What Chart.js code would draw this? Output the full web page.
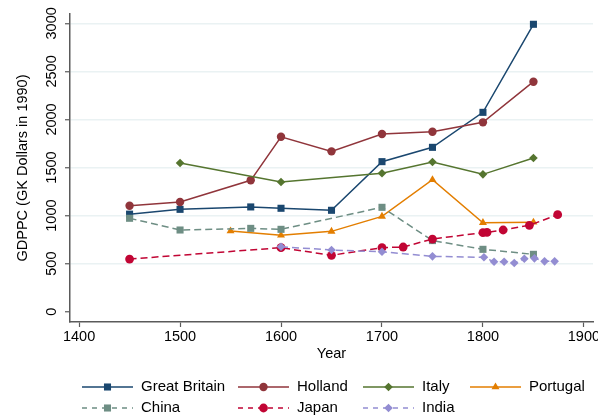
<!DOCTYPE html>
<html>
<head>
<meta charset="utf-8">
<script src="https://cdn.jsdelivr.net/npm/chart.js@4"></script>
<style>
  html, body { margin: 0; padding: 0; background: #ffffff; }
  #wrap { width: 598px; height: 419px; position: relative; }
</style>
</head>
<body>
<div id="wrap"><canvas id="c" width="598" height="419"></canvas></div>
<script>
// GDP per capita (1990 GK dollars) by country, 1450–1874
const seriesNames = ['Great Britain', 'Holland', 'Italy', 'Portugal', 'China', 'Japan', 'India'];

const gbYears = [1450, 1500, 1570, 1600, 1650, 1700, 1750, 1800, 1850];
const gbValues = [1015, 1065, 1090, 1076, 1055, 1561, 1710, 2074, 2990];

const hollandYears = [1450, 1500, 1570, 1600, 1650, 1700, 1750, 1800, 1850];
const hollandValues = [1102, 1141, 1367, 1820, 1668, 1848, 1872, 1970, 2393];

const italyYears = [1500, 1600, 1700, 1750, 1800, 1850];
const italyValues = [1547, 1349, 1440, 1557, 1429, 1599];

const portugalYears = [1550, 1600, 1650, 1700, 1750, 1800, 1850];
const portugalValues = [839, 795, 836, 992, 1373, 926, 930];

const chinaYears = [1450, 1500, 1570, 1600, 1700, 1750, 1800, 1850];
const chinaValues = [972, 850, 867, 857, 1086, 740, 649, 597];

const japanYears = [1450, 1600, 1650, 1700, 1721, 1750, 1800, 1804, 1820, 1846, 1874];
const japanValues = [548, 666, 587, 666, 673, 756, 822, 825, 850, 899, 1009];

const indiaYears = [1600, 1650, 1700, 1750, 1801, 1811, 1821, 1831, 1841, 1851, 1861, 1871];
const indiaValues = [676, 642, 624, 576, 566, 520, 520, 507, 551, 555, 524, 524];

const xTicks = [1400, 1500, 1600, 1700, 1800, 1900];
const yTicks = [0, 500, 1000, 1500, 2000, 2500, 3000];

// Appearance of each series
const seriesYears = [gbYears, hollandYears, italyYears, portugalYears, chinaYears, japanYears, indiaYears];
const seriesValues = [gbValues, hollandValues, italyValues, portugalValues, chinaValues, japanValues, indiaValues];
const seriesColors = ['#1a476f', '#90353b', '#55752f', '#e37e00', '#6e8e84', '#c10534', '#938dd2'];
const seriesDash = [[], [], [], [], [7, 4], [7, 4], [7, 4]];
const seriesPoint = ['rect', 'circle', 'rectRot', 'triangle', 'rect', 'circle', 'rectRot'];
const seriesRadius = [5, 4.2, 4.3, 4.6, 5, 4.4, 4.3];

const FONT = "'Liberation Sans', Arial, Helvetica, sans-serif";

const datasets = seriesNames.map((name, i) => ({
  label: name,
  data: seriesYears[i].map((yr, j) => ({ x: yr, y: seriesValues[i][j] })),
  borderColor: seriesColors[i],
  backgroundColor: seriesColors[i],
  pointBackgroundColor: seriesColors[i],
  pointBorderColor: seriesColors[i],
  pointBorderWidth: 0,
  borderWidth: 1.5,
  borderDash: seriesDash[i],
  pointStyle: seriesPoint[i],
  pointRadius: seriesRadius[i],
  tension: 0,
  fill: false,
  order: seriesNames.length - i
}));

// Two-row legend laid out on a fixed column grid below the plot
const gridLegend = {
  id: 'gridLegend',
  afterDraw(chart) {
    const ctx = chart.ctx;
    const colX = [82, 238, 363, 470];
    const rowY = [387, 408];
    const sampleLen = 51;
    ctx.save();
    chart.data.datasets.forEach((ds, i) => {
      const col = i < 4 ? i : i - 4;
      const row = i < 4 ? 0 : 1;
      const x0 = colX[col];
      const y = rowY[row];
      ctx.strokeStyle = ds.borderColor;
      ctx.lineWidth = ds.borderWidth;
      ctx.setLineDash(ds.borderDash && ds.borderDash.length ? [5, 5] : []);
      ctx.beginPath();
      ctx.moveTo(x0, y);
      ctx.lineTo(x0 + sampleLen, y);
      ctx.stroke();
      ctx.setLineDash([]);
      ctx.fillStyle = ds.pointBackgroundColor;
      ctx.strokeStyle = ds.pointBorderColor;
      Chart.helpers.drawPoint(ctx, {
        pointStyle: ds.pointStyle,
        radius: ds.pointRadius,
        rotation: 0,
        borderWidth: 0
      }, x0 + sampleLen / 2, y);
      ctx.fillStyle = '#000000';
      ctx.font = '15px ' + FONT;
      ctx.textAlign = 'left';
      ctx.textBaseline = 'middle';
      ctx.fillText(ds.label, x0 + sampleLen + 8, y);
    });
    ctx.restore();
  }
};

new Chart(document.getElementById('c'), {
  type: 'line',
  data: { datasets },
  plugins: [gridLegend],
  options: {
    responsive: false,
    animation: false,
    layout: { padding: { left: 0, right: 5, top: 14, bottom: 50 } },
    plugins: {
      legend: { display: false },
      tooltip: { enabled: false }
    },
    scales: {
      x: {
        type: 'linear',
        min: 1391,
        max: 1909,
        afterBuildTicks: s => { s.ticks = xTicks.map(v => ({ value: v })); },
        afterFit: s => { s.height = 47; s.paddingLeft = 0; s.paddingRight = 0; },
        grid: { drawOnChartArea: false, tickLength: 5, tickColor: '#5a5a5a', tickWidth: 1.2 },
        border: { color: '#5a5a5a', width: 1.5 },
        ticks: {
          color: '#000000',
          font: { family: FONT, size: 14.5 },
          padding: 1,
          maxRotation: 0,
          autoSkip: false,
          callback: v => String(v)
        },
        title: {
          display: true,
          text: 'Year',
          color: '#000000',
          font: { family: FONT, size: 14.5 },
          padding: { top: 0, bottom: 6 }
        }
      },
      y: {
        type: 'linear',
        min: -107,
        max: 3097,
        afterBuildTicks: s => { s.ticks = yTicks.map(v => ({ value: v })); },
        afterFit: s => { s.width = 70; s.paddingTop = 0; s.paddingBottom = 0; },
        grid: {
          color: c => (c.tick && c.tick.value === 0) ? 'rgba(0,0,0,0)' : '#eaf2f3',
          lineWidth: 1.5,
          tickLength: 5,
          tickColor: '#5a5a5a',
          tickWidth: 1.2
        },
        border: { color: '#5a5a5a', width: 1.5 },
        ticks: {
          color: '#000000',
          font: { family: FONT, size: 14.5 },
          minRotation: 90,
          maxRotation: 90,
          crossAlign: 'center',
          padding: -3,
          autoSkip: false,
          callback: v => String(v)
        },
        title: {
          display: true,
          text: 'GDPPC (GK Dollars in 1990)',
          color: '#000000',
          font: { family: FONT, size: 14.5 },
          padding: { top: 14, bottom: 0 }
        }
      }
    }
  }
});
</script>
</body>
</html>
